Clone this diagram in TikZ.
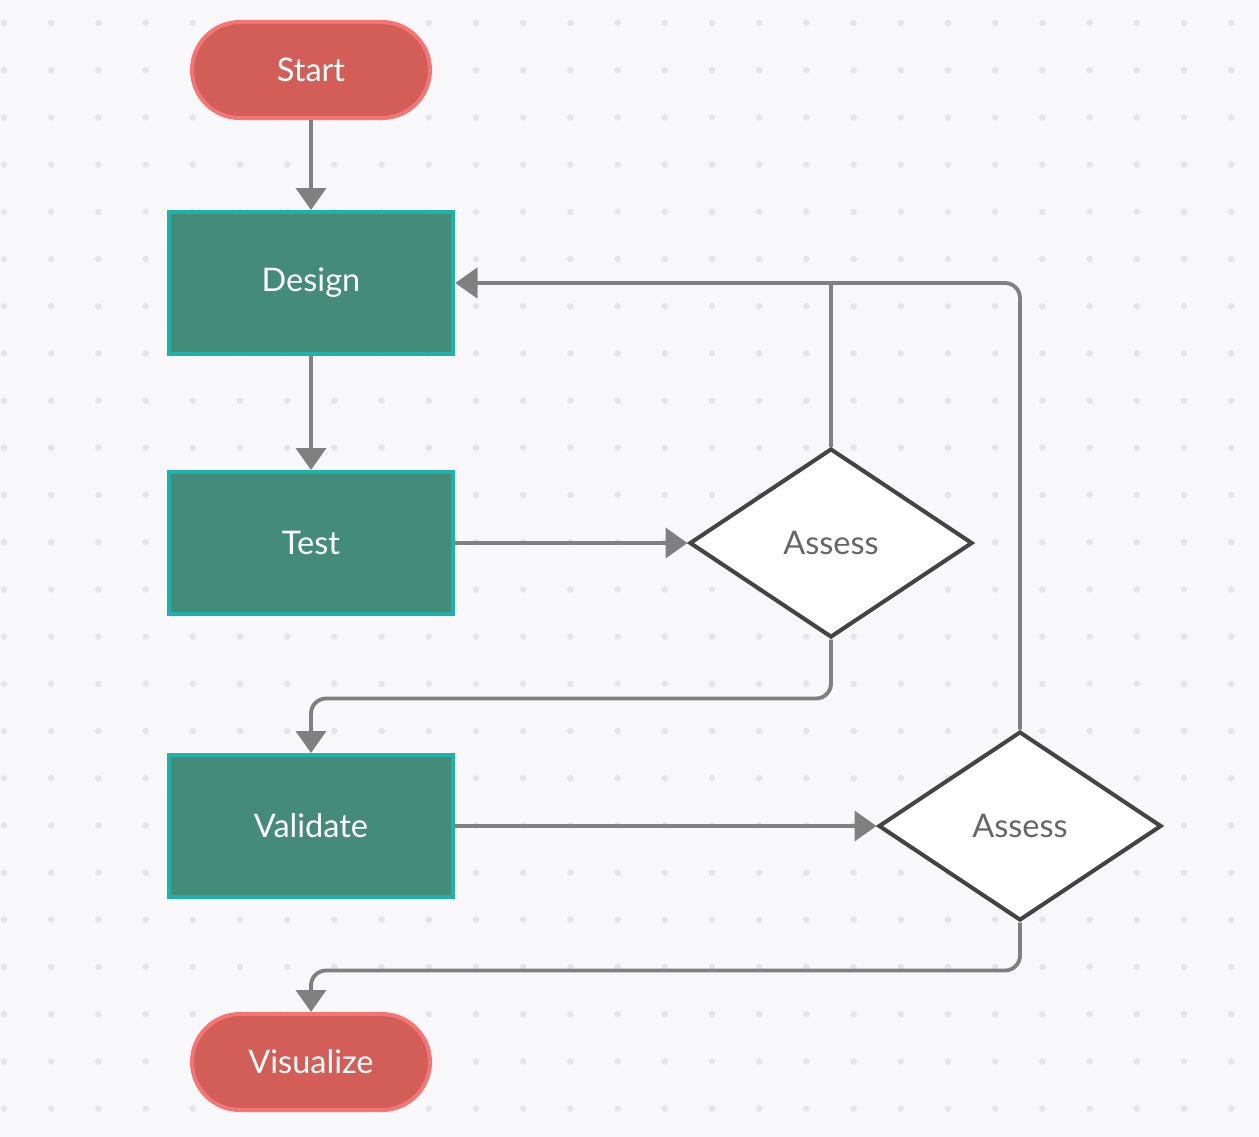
\documentclass[tikz,border=0pt]{standalone}
\usepackage{fontspec}
\setmainfont{Lato}
\usetikzlibrary{arrows.meta, shapes.geometric}
\definecolor{pageWhite}{HTML}{F8F8FB}
\definecolor{dotGray}{HTML}{E4E4E9}
\definecolor{termRed}{HTML}{D35D57}
\definecolor{termEdge}{HTML}{F57474}
\definecolor{stepGreen}{HTML}{458B79}
\definecolor{stepEdge}{HTML}{20B2AA}
\definecolor{linkGray}{HTML}{808080}
\definecolor{choiceEdge}{HTML}{444444}
\definecolor{choiceText}{HTML}{666666}

\begin{document}
\begin{tikzpicture}[x=0.02cm, y=-0.02cm, >={Triangle[length=0.44cm, width=0.6cm]}]

    % --- 1. The Canvas ---
    % Page background
    \fill[pageWhite] (0,0) rectangle (1259,1137);

    % Dot grid
    \foreach \i in {0,...,26} {
        \foreach \j in {0,...,23} {
            \fill[dotGray] ({4+47.2*\i},{23+47.2*\j}) circle (0.065cm);
        }
    }


    % --- 2. Shape styles ---
    \tikzstyle{terminal}=[rectangle, rounded corners=0.96cm, fill=termRed, draw=termEdge, line width=2.3pt, minimum width=4.76cm, minimum height=1.92cm, text=white, font=\fontsize{18.5}{22}\selectfont]
    \tikzstyle{process}=[rectangle, fill=stepGreen, draw=stepEdge, line width=2.3pt, minimum width=5.7cm, minimum height=2.84cm, text=white, font=\fontsize{18.5}{22}\selectfont]
    \tikzstyle{decision}=[diamond, fill=white, draw=choiceEdge, line width=2.3pt, inner sep=0pt, minimum width=5.66cm, minimum height=3.78cm, text=choiceText, font=\fontsize{18.5}{22}\selectfont]
    \tikzstyle{link}=[linkGray, line width=2.2pt, ->]


    % --- 3. The Nodes ---
    % Left column
    \node[terminal] (start) at (311, 70) {Start};
    \node[process] (design) at (311, 283) {Design};
    \node[process] (test) at (311, 543) {Test};
    \node[process] (validate) at (311, 826) {Validate};
    \node[terminal] (visualize) at (311, 1062) {Visualize};

    % Decisions
    \node[decision] (assessA) at (831, 543) {Assess};
    \node[decision] (assessB) at (1020, 826) {Assess};


    % --- 4. The Connectors ---
    % Straight links
    \draw[link] (start) -- (design);
    \draw[link] (design) -- (test);
    \draw[link] (test) -- (assessA);
    \draw[link] (validate) -- (assessB);

    % Loops back to Design
    \draw[link] (assessA.north) |- (design.east);
    \draw[link, rounded corners=0.3cm] (assessB.north) |- (design.east);

    % Onwards
    \draw[link, rounded corners=0.3cm] (assessA.south) -- ++(0,59) -| (validate.north);
    \draw[link, rounded corners=0.3cm] (assessB.south) -- ++(0,48) -| (visualize.north);

\end{tikzpicture}
\end{document}
